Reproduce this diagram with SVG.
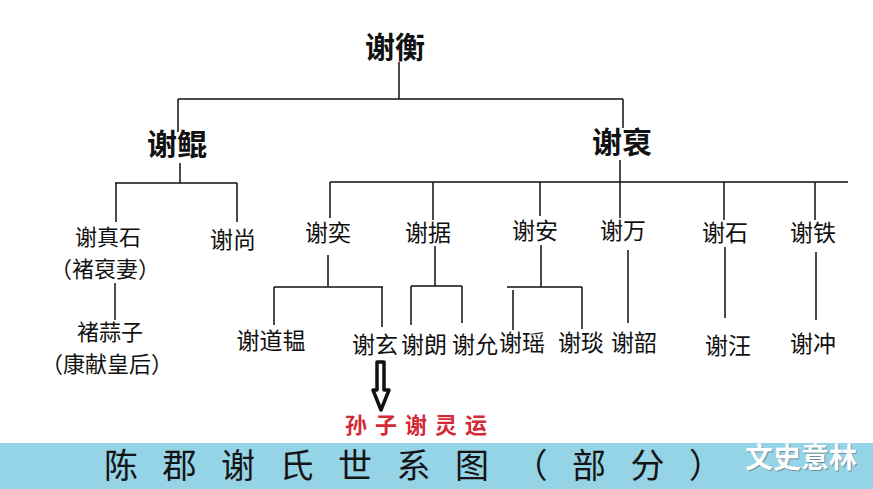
<svg xmlns="http://www.w3.org/2000/svg" width="873" height="489" viewBox="0 0 873 489">
<style>
text{font-family:"Noto Sans CJK SC","Noto Sans CJK TC",sans-serif;fill:#111;text-anchor:middle}
.l1{font-size:30px;font-weight:bold}
.n{font-size:23px}
.n2{font-size:22px}
.c path{stroke:#111;stroke-width:1.5;fill:none}
.red{font-size:22px;font-weight:bold;fill:#d42a35;letter-spacing:8px;text-anchor:start}
.title{font-size:34px;letter-spacing:24.5px;text-anchor:start;fill:#151515}
.wm{font-size:28px;font-weight:bold;text-anchor:start}
</style>
<rect width="873" height="489" fill="#fff"/>
<rect x="0" y="443" width="873" height="46" fill="#95d3e6"/>
<g class="c" id="connectors">
<path d="M399,62V99M178,99H623M178,99V132M623,99V128"/>
<path d="M180,163V183M115,183H237M116,183V222M237,183V222"/>
<path d="M620,160V218M330,182H848M330,182V218M433,182V220M540,182V216M724,182V220M815,182V220"/>
<path d="M115,283V320"/>
<path d="M328,255V287M274,287H383M274,287V325M382,287V327"/>
<path d="M435,246V286M411,286H462M411,286V325M462,286V323"/>
<path d="M541,245V287M507,287H582M513,290V330M582,287V329"/>
<path d="M628,250V323M725,247V318M816,252V320"/>
<polygon points="377,362 384,362 384,390 389,390 381,410 373,390 377,390" fill="#fff" stroke="#111" stroke-width="3.5" stroke-linejoin="round"/>
</g>
<g id="n-xieheng"><text class="l1" x="395" y="58">谢衡</text></g>
<g id="n-xiekun"><text class="l1" x="177" y="155">谢鲲</text></g>
<g id="n-xiepou"><text class="l1" x="622" y="153">谢裒</text></g>
<g id="n-xiezhenshi"><text class="n2" x="108" y="245">谢真石</text><text class="n2" x="105" y="277">（褚裒妻）</text></g>
<g id="n-xieshang"><text class="n" x="233" y="248">谢尚</text></g>
<g id="n-xieyi"><text class="n" x="328" y="241">谢奕</text></g>
<g id="n-xieju"><text class="n" x="428" y="241">谢据</text></g>
<g id="n-xiean"><text class="n" x="535" y="239">谢安</text></g>
<g id="n-xiewan"><text class="n" x="623" y="239">谢万</text></g>
<g id="n-xieshi"><text class="n" x="725" y="241">谢石</text></g>
<g id="n-xietie"><text class="n" x="813" y="241">谢铁</text></g>
<g id="n-chusuanzi"><text class="n2" x="110" y="340">褚蒜子</text><text class="n2" x="107" y="372">（康献皇后）</text></g>
<g id="n-xiedaoyun"><text class="n" x="271" y="349">谢道韫</text></g>
<g id="n-xiexuan"><text class="n" x="375" y="353">谢玄</text></g>
<g id="n-xielang"><text class="n" x="424" y="353">谢朗</text></g>
<g id="n-xieyun"><text class="n" x="475" y="353">谢允</text></g>
<g id="n-xieyao"><text class="n" x="522" y="351">谢瑶</text></g>
<g id="n-xieyan"><text class="n" x="581" y="351">谢琰</text></g>
<g id="n-xieshao"><text class="n" x="634" y="351">谢韶</text></g>
<g id="n-xiewang"><text class="n" x="728" y="354">谢汪</text></g>
<g id="n-xiechong"><text class="n" x="813" y="352">谢冲</text></g>
<g id="n-lingyun"><text class="red" x="345" y="433">孙子谢灵运</text></g>
<text class="title" x="104" y="478">陈郡谢氏世系图（部分）</text>
<text class="wm" x="746" y="469" style="fill:#6f8f99">文史意林</text>
<text class="wm" x="745" y="468" style="fill:#fff">文史意林</text>
</svg>
